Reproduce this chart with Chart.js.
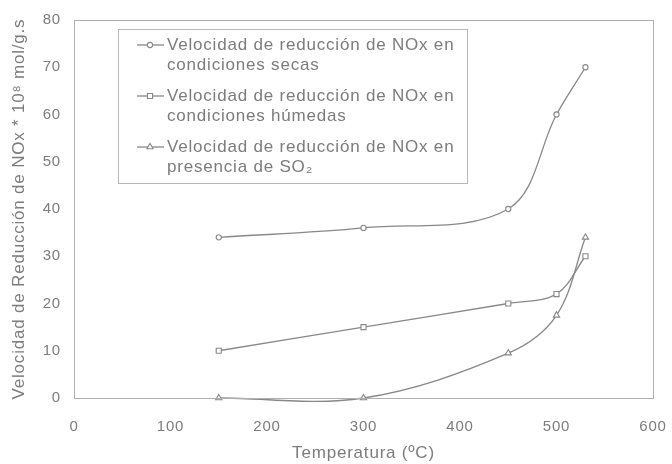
<!DOCTYPE html>
<html>
<head>
<meta charset="utf-8">
<script src="https://cdn.jsdelivr.net/npm/chart.js@4.4.1/dist/chart.umd.min.js"></script>
<style>
  html, body { margin: 0; padding: 0; background: #fff; }
  #wrap { width: 672px; height: 464px; }
</style>
</head>
<body>
<div id="wrap"><canvas id="c"></canvas></div>
<script>
// Data
const temps = [150, 300, 450, 500, 530];
const secas = [34, 36, 40, 60, 70];
const humedas = [10, 15, 20, 22, 30];
const so2 = [0, 0, 9.5, 17.5, 34];

const legendLines = [
  ['Velocidad de reducción de NOx en', 'condiciones secas'],
  ['Velocidad de reducción de NOx en', 'condiciones húmedas'],
  ['Velocidad de reducción de NOx en', 'presencia de SO₂']
];
const xTitle = 'Temperatura (ºC)';
const yTitle = 'Velocidad de Reducción de NOx * 10⁸ mol/g.s';

const ink = '#7c7c7c';
const lineCol = '#888';
const FONT = '"Liberation Sans", Arial, sans-serif';

Chart.defaults.font.family = FONT;
Chart.defaults.color = ink;

function pts(ys){ return temps.map((t, i) => ({ x: t, y: ys[i] })); }

function series(label, ys, style, r){
  return {
    label, data: pts(ys),
    borderColor: lineCol, borderWidth: 1.3,
    backgroundColor: '#fff',
    pointStyle: style, pointRadius: r, pointBorderWidth: 1.1,
    pointBorderColor: lineCol, pointBackgroundColor: '#fff',
    tension: 0.35, capBezierPoints: false, clip: 8, fill: false
  };
}

// the source figure has slightly wide lettering
const spacing = {
  id: 'spacing',
  beforeUpdate(chart){ chart.ctx.letterSpacing = '0.8px'; },
  beforeDraw(chart){ chart.ctx.letterSpacing = '0.8px'; }
};

// frame around plot area + boxed legend with two-line labels
const framePlugin = {
  id: 'frame',
  beforeDraw(chart){
    const { ctx } = chart;
    ctx.save();
    ctx.fillStyle = '#fff';
    ctx.fillRect(0, 0, chart.width, chart.height);
    ctx.restore();
  },
  afterDraw(chart){
    const { ctx, chartArea: a } = chart;
    ctx.save();
    ctx.strokeStyle = '#b0b0b0';
    ctx.lineWidth = 1;
    ctx.strokeRect(a.left + 0.5, a.top + 0.5, a.right - a.left, a.bottom - a.top);

    // legend box
    const bx = 118, by = 29, bw = 349, bh = 154;
    ctx.fillStyle = '#fff';
    ctx.fillRect(bx, by, bw, bh);
    ctx.strokeStyle = '#b8b8b8';
    ctx.strokeRect(bx + 0.5, by + 0.5, bw, bh);

    const rowY = [45, 96, 147];
    ctx.font = '17px ' + FONT;
    ctx.textBaseline = 'middle';
    chart.data.datasets.forEach((ds, i) => {
      const y = rowY[i];
      ctx.strokeStyle = lineCol;
      ctx.lineWidth = 1.3;
      ctx.beginPath();
      ctx.moveTo(137, y);
      ctx.lineTo(164, y);
      ctx.stroke();
      ctx.fillStyle = '#fff';
      ctx.lineWidth = 1.1;
      Chart.helpers.drawPoint(ctx, { pointStyle: ds.pointStyle, radius: ds.pointRadius, borderWidth: 1.1 }, 150, y);
      ctx.fillStyle = ink;
      legendLines[i].forEach((t, k) => ctx.fillText(t, 167, y + k * 20));
    });
    ctx.restore();
  }
};

new Chart(document.getElementById('c'), {
  type: 'line',
  data: {
    datasets: [
      series(legendLines[0].join(' '), secas, 'circle', 2.6),
      series(legendLines[1].join(' '), humedas, 'rect', 3.6),
      series(legendLines[2].join(' '), so2, 'triangle', 3.6)
    ]
  },
  options: {
    responsive: true,
    maintainAspectRatio: false,
    animation: false,
    layout: { padding: { left: 0, top: 20, right: 19, bottom: 0 } },
    plugins: { legend: { display: false }, tooltip: { enabled: false } },
    scales: {
      x: {
        type: 'linear', min: 0, max: 600,
        grid: { display: false, drawTicks: false },
        border: { display: false },
        ticks: { stepSize: 100, padding: 20, font: { size: 15 }, color: ink },
        title: { display: true, text: xTitle, font: { size: 17 }, color: ink, padding: { top: 0, bottom: 0 } },
        afterFit(s){ s.height = 66; s.paddingLeft = 0; s.paddingRight = 0; }
      },
      y: {
        min: 0, max: 80,
        grid: { display: false, drawTicks: false },
        border: { display: false },
        ticks: { stepSize: 10, padding: 13, font: { size: 15 }, color: ink },
        title: { display: true, text: yTitle, font: { size: 17 }, color: ink, padding: { top: 9, bottom: 0 } },
        afterFit(s){ s.width = 74; s.paddingTop = 0; s.paddingBottom = 0; }
      }
    }
  },
  plugins: [spacing, framePlugin]
});
</script>
</body>
</html>
